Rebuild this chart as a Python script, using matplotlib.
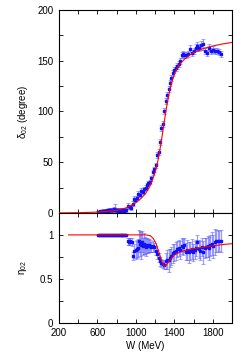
import numpy as np
import matplotlib
matplotlib.use("Agg")
import matplotlib.pyplot as plt
from matplotlib.ticker import MultipleLocator

plt.rcParams['font.family'] = ['Liberation Sans', 'DejaVu Sans']
plt.rcParams['mathtext.fontset'] = 'custom'
plt.rcParams['mathtext.rm'] = 'Liberation Sans'
plt.rcParams['mathtext.it'] = 'Liberation Sans'
plt.rcParams['font.size'] = 7

# phase shift data (top panel)
W_delta = [610, 620, 630, 640, 650, 660, 670, 680, 690, 700, 710, 720, 730, 740, 750,
           760, 770, 780, 790, 800, 810, 820, 830, 840, 850, 860, 870, 880, 890, 900,
           920, 935, 950, 965, 980, 995, 1010, 1025, 1040, 1055, 1070, 1085, 1100, 1115,
           1130, 1145, 1160, 1175, 1190, 1205, 1220, 1235, 1250, 1265, 1280, 1295, 1310,
           1325, 1340, 1355, 1370, 1385, 1400, 1415, 1430, 1445, 1460, 1475, 1490, 1505,
           1520, 1540, 1560, 1580, 1600, 1620, 1640, 1660, 1680, 1700, 1720, 1740, 1760,
           1780, 1800, 1820, 1840, 1860, 1880]
delta = [1, 1, 1.5, 1, 1.5, 2, 1.5, 2, 2, 2.5, 2, 2.5, 3, 2.5, 3,
         3, 3.5, 3, 3, 2.5, 2, 3, 2.5, 2, 2, 2.5, 3, 2, 3, 3,
         7, 6, 5, 9, 14, 13, 15, 19, 18, 22, 21, 24, 25, 27,
         29, 30, 34, 40, 43, 47, 57, 60, 70, 84, 88, 100, 110,
         116, 122, 128, 133, 138, 141, 143, 145, 147, 150, 156, 157, 156,
         156, 157, 162, 158, 160, 163, 164, 163, 165, 166, 160, 158, 163,
         160, 161, 160, 160, 159, 157]
delta_err = [1, 1, 1, 1, 1, 1.5, 1, 1.5, 1.5, 1.5, 1.5, 2, 2, 1.5, 2,
             2, 2, 6, 2, 2, 1.5, 2, 2, 1.5, 1.5, 2, 2, 1.5, 2, 2,
             3, 2, 2, 2.5, 2.5, 2, 2, 2.5, 2, 2.5, 2, 2, 2, 2,
             2, 2, 2.5, 2.5, 2.5, 2.5, 3, 3, 3, 3, 3, 3, 3,
             3, 3, 3, 3, 3, 3, 3, 3, 3, 3, 3, 3, 3,
             3, 3, 3.5, 3, 3, 3.5, 4, 3.5, 4, 5, 3, 3, 3,
             3, 3, 3, 3, 3, 3]

# fit curve (top panel)
W_fit_delta = [200, 400, 600, 700, 800, 900, 1000, 1050, 1100, 1150, 1200, 1230, 1260,
               1290, 1320, 1350, 1380, 1410, 1450, 1500, 1550, 1600, 1700, 1800, 1900, 2000]
delta_fit = [0, 0.2, 0.8, 1.5, 2.5, 5, 10, 14, 19, 27, 40, 52, 68,
             87, 105, 120, 131, 139, 146, 151, 155, 158, 162, 164.5, 166.5, 168]

# inelasticity data (bottom panel)
W_eta = [610, 620, 630, 640, 650, 660, 670, 680, 690, 700, 710, 720, 730, 740, 750,
         760, 770, 780, 790, 800, 810, 820, 830, 840, 850, 860, 870, 880, 890, 900,
         920, 930, 940, 955, 970, 985, 1000, 1010, 1020, 1035, 1045, 1055, 1065, 1075,
         1085, 1095, 1105, 1115, 1125, 1135, 1145, 1160, 1175, 1190, 1205, 1220, 1235,
         1250, 1265, 1280, 1295, 1310, 1325, 1340, 1355, 1370, 1385, 1400, 1415, 1430,
         1445, 1460, 1475, 1490, 1505, 1520, 1535, 1550, 1565, 1580, 1595, 1610, 1625,
         1640, 1655, 1670, 1685, 1700, 1715, 1730, 1745, 1760, 1775, 1790, 1805, 1820,
         1835, 1850, 1865, 1880]
eta = [1] * 30 + [
    0.93, 0.92, 0.93, 0.92, 0.76, 0.82, 0.83, 0.84, 0.85, 0.93, 0.90, 0.88, 0.92, 0.87,
    0.90, 0.88, 0.86, 0.88, 0.87, 0.88, 0.87, 0.86, 0.87, 0.86, 0.82, 0.78, 0.74,
    0.70, 0.68, 0.67, 0.66, 0.70, 0.72, 0.71, 0.74, 0.76, 0.79, 0.80, 0.82, 0.84,
    0.85, 0.83, 0.87, 0.86, 0.88, 0.81, 0.83, 0.80, 0.82, 0.84, 0.80, 0.83, 0.85,
    0.92, 0.84, 0.82, 0.86, 0.80, 0.85, 0.86, 0.87, 0.85, 0.88, 0.90, 0.87, 0.92,
    0.93, 0.93, 0.93, 0.93]
eta_err = [0.005] * 30 + [
    0.04, 0.04, 0.04, 0.05, 0.05, 0.08, 0.10, 0.10, 0.10, 0.12, 0.14, 0.15, 0.12, 0.10,
    0.12, 0.10, 0.10, 0.09, 0.08, 0.07, 0.07, 0.06, 0.06, 0.05, 0.05, 0.05, 0.05,
    0.05, 0.05, 0.05, 0.05, 0.09, 0.11, 0.13, 0.10, 0.10, 0.11, 0.10, 0.10, 0.09,
    0.09, 0.10, 0.09, 0.09, 0.08, 0.10, 0.11, 0.12, 0.10, 0.11, 0.10, 0.10, 0.09,
    0.08, 0.10, 0.11, 0.10, 0.13, 0.11, 0.11, 0.12, 0.13, 0.12, 0.13, 0.13, 0.15,
    0.13, 0.13, 0.11, 0.13]

# fit curve (bottom panel)
W_fit_eta = [300, 600, 900, 1100, 1150, 1180, 1210, 1240, 1270, 1295, 1320, 1350,
             1400, 1450, 1500, 1600, 1700, 1800, 1900, 2000]
eta_fit = [1, 1, 1, 1, 0.99, 0.96, 0.9, 0.8, 0.7, 0.64, 0.66, 0.71,
           0.77, 0.8, 0.82, 0.845, 0.86, 0.875, 0.89, 0.9]

x_ticks = [200, 600, 1000, 1400, 1800]

fig = plt.figure(figsize=(2.49, 3.56), dpi=100)
ax1 = fig.add_axes([0.237, 0.402, 0.695, 0.570])
ax2 = fig.add_axes([0.237, 0.093, 0.695, 0.309])

blue = '#1010ff'
for ax, Wd, yd, ye, Wf, yf in [(ax1, W_delta, delta, delta_err, W_fit_delta, delta_fit),
                               (ax2, W_eta, eta, eta_err, W_fit_eta, eta_fit)]:
    ax.errorbar(Wd, yd, yerr=ye, fmt='s', ms=2, color=blue, mec=blue,
                ecolor=(0.35, 0.35, 1.0, 0.6), elinewidth=0.9, capsize=1.5,
                capthick=0.6, zorder=2)
    ax.plot(Wf, yf, color='red', lw=0.8, zorder=3)
    ax.set_xlim(200, 2000)
    ax.set_xticks(x_ticks)
    ax.xaxis.set_minor_locator(MultipleLocator(200))
    ax.tick_params(which='both', direction='in', top=True, right=True, length=3,
                   width=0.6, labelsize=7, pad=4)
    for s in ax.spines.values():
        s.set_linewidth(0.8)

ax1.set_ylim(0, 200)
ax1.yaxis.set_major_locator(MultipleLocator(50))
ax1.yaxis.set_minor_locator(MultipleLocator(25))
ax1.tick_params(labelbottom=False)
ax1.set_ylabel(r'$\delta_{02}$ (degree)', fontsize=7, labelpad=5)

ax2.set_ylim(0, 1.25)
ax2.set_yticks([0, 0.5, 1])
ax2.set_yticklabels(['0', '0.5', '1'])
ax2.yaxis.set_minor_locator(MultipleLocator(0.25))
ax2.set_ylabel(r'$\eta_{02}$', fontsize=7, labelpad=8)
ax2.set_xlabel('W (MeV)', fontsize=7, labelpad=2)

fig.savefig('out.png', dpi=100)
